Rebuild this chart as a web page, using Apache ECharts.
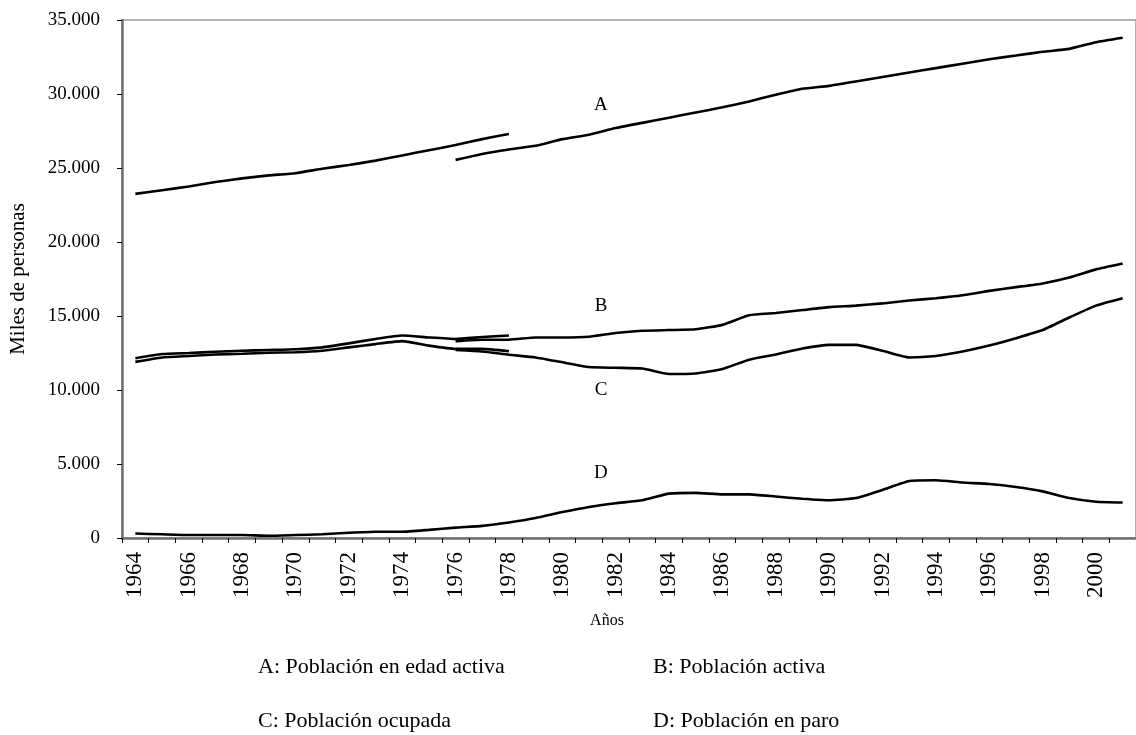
<!DOCTYPE html>
<html>
<head>
<meta charset="utf-8">
<script src="https://cdn.jsdelivr.net/npm/echarts@6/dist/echarts.min.js"></script>
<style>
html, body { margin: 0; background: #fff; }
#main { width: 1136px; height: 735px; }
</style>
</head>
<body>
<div id="main"></div>
<script>
var years = ['1964','1965','1966','1967','1968','1969','1970','1971','1972','1973',
             '1974','1975','1976','1977','1978','1979','1980','1981','1982','1983',
             '1984','1985','1986','1987','1988','1989','1990','1991','1992','1993',
             '1994','1995','1996','1997','1998','1999','2000','2001'];

// A: Población en edad activa (serie antigua 1964-1978, nueva 1976-2001)
var edadActivaAnt = [23250, 23500, 23750, 24050, 24300, 24500, 24650, 24950, 25200, 25500, 25850, 26200, 26550, 26950, 27300];
var edadActivaNue = [25550, 25950, 26250, 26500, 26950, 27250, 27700, 28050, 28400, 28750, 29100, 29500, 29950,
                     30350, 30550, 30850, 31150, 31450, 31750, 32050, 32350, 32600, 32850, 33050, 33500, 33800];
// B: Población activa
var activaAnt = [12150, 12430, 12500, 12580, 12650, 12700, 12750, 12880, 13150, 13450, 13680, 13550, 13450, 13580, 13680];
var activaNue = [13300, 13400, 13400, 13550, 13550, 13600, 13850, 14000, 14050, 14100, 14400, 15050, 15200,
                 15400, 15600, 15700, 15850, 16050, 16200, 16400, 16700, 16950, 17200, 17600, 18150, 18550];
// C: Población ocupada
var ocupadaAnt = [11900, 12200, 12300, 12400, 12450, 12520, 12550, 12650, 12880, 13100, 13300, 13000, 12780, 12780, 12620];
var ocupadaNue = [12700, 12600, 12380, 12200, 11870, 11550, 11500, 11450, 11080, 11120, 11420, 12050, 12400,
                  12800, 13050, 13050, 12650, 12200, 12300, 12600, 13000, 13500, 14050, 14900, 15700, 16200];
// D: Población en paro
var paro = [300, 250, 200, 200, 200, 150, 200, 250, 350, 420, 420, 550, 700, 820, 1050, 1350, 1750, 2100, 2350,
            2550, 3000, 3050, 2950, 2950, 2800, 2650, 2550, 2700, 3250, 3850, 3900, 3750, 3650, 3450, 3150, 2700, 2450, 2400];

// letras sobre las curvas
var letras = ['A', 'B', 'C', 'D'];
var letraAnio = ['1981', '1981', '1981', '1981'];
var letraValor = [29250, 15650, 10000, 4400];
var leyenda = ['A: Población en edad activa', 'B: Población activa', 'C: Población ocupada', 'D: Población en paro'];

var fuente = '"Liberation Serif", "DejaVu Serif", serif';

function rellenar(desde, valores) {
    var out = [];
    var i0 = years.indexOf(desde);
    for (var i = 0; i < years.length; i++) {
        var k = i - i0;
        out.push(k >= 0 && k < valores.length ? valores[k] : null);
    }
    return out;
}

function serie(nombre, datos) {
    return {
        name: nombre,
        type: 'line',
        data: datos,
        showSymbol: false,
        symbol: 'none',
        smooth: 0.15,
        connectNulls: false,
        lineStyle: { color: '#000', width: 2.6 },
        silent: true
    };
}

var myChart = echarts.init(document.getElementById('main'));

var option = {
    animation: false,
    grid: {
        left: 122, right: 0, top: 20, bottom: 197,
        containLabel: false,
        outerBoundsMode: 'none',
        show: true, borderColor: '#9a9a9a', borderWidth: 1.5
    },
    xAxis: {
        type: 'category',
        data: years,
        boundaryGap: true,
        axisLine: { lineStyle: { color: '#707070', width: 2.5 } },
        axisTick: { show: true, interval: 0, length: 5, lineStyle: { color: '#000', width: 1 } },
        axisLabel: {
            interval: 1, rotate: 90, margin: 14,
            color: '#000', fontFamily: fuente, fontSize: 23
        },
        splitLine: { show: false }
    },
    yAxis: {
        type: 'value',
        min: 0, max: 35000, interval: 5000,
        name: 'Miles de personas',
        nameLocation: 'middle',
        nameGap: 93,
        nameTextStyle: { color: '#000', fontFamily: fuente, fontSize: 21 },
        axisLine: { show: true, lineStyle: { color: '#707070', width: 2.5 } },
        axisTick: { show: true, length: 5, lineStyle: { color: '#000', width: 1 } },
        axisLabel: {
            margin: 22, color: '#000', fontFamily: fuente, fontSize: 19,
            formatter: function (v) { return String(v).replace(/\B(?=(\d{3})+(?!\d))/g, '.'); }
        },
        splitLine: { show: false }
    },
    series: [
        serie('A1', rellenar('1964', edadActivaAnt)),
        serie('A2', rellenar('1976', edadActivaNue)),
        serie('B1', rellenar('1964', activaAnt)),
        serie('B2', rellenar('1976', activaNue)),
        serie('C1', rellenar('1964', ocupadaAnt)),
        serie('C2', rellenar('1976', ocupadaNue)),
        serie('D', paro)
    ]
};
myChart.setOption(option);

// textos: letras de las curvas, título del eje x y leyenda
var textos = [];
for (var i = 0; i < letras.length; i++) {
    var p = myChart.convertToPixel({ gridIndex: 0 }, [letraAnio[i], letraValor[i]]);
    textos.push({
        type: 'text', x: p[0] + 12, y: p[1],
        style: { text: letras[i], fill: '#000', font: '19px ' + fuente, align: 'center', verticalAlign: 'middle' }
    });
}
textos.push({
    type: 'text', x: 607, y: 621,
    style: { text: 'Años', fill: '#000', font: '16px ' + fuente, align: 'center', verticalAlign: 'middle' }
});
var legX = [258, 653, 258, 653];
var legY = [667, 667, 721, 721];
for (var j = 0; j < leyenda.length; j++) {
    textos.push({
        type: 'text', x: legX[j], y: legY[j],
        style: { text: leyenda[j], fill: '#000', font: '22px ' + fuente, align: 'left', verticalAlign: 'middle' }
    });
}
myChart.setOption({ graphic: textos });

window.addEventListener('resize', function () { myChart.resize(); });
</script>
</body>
</html>
